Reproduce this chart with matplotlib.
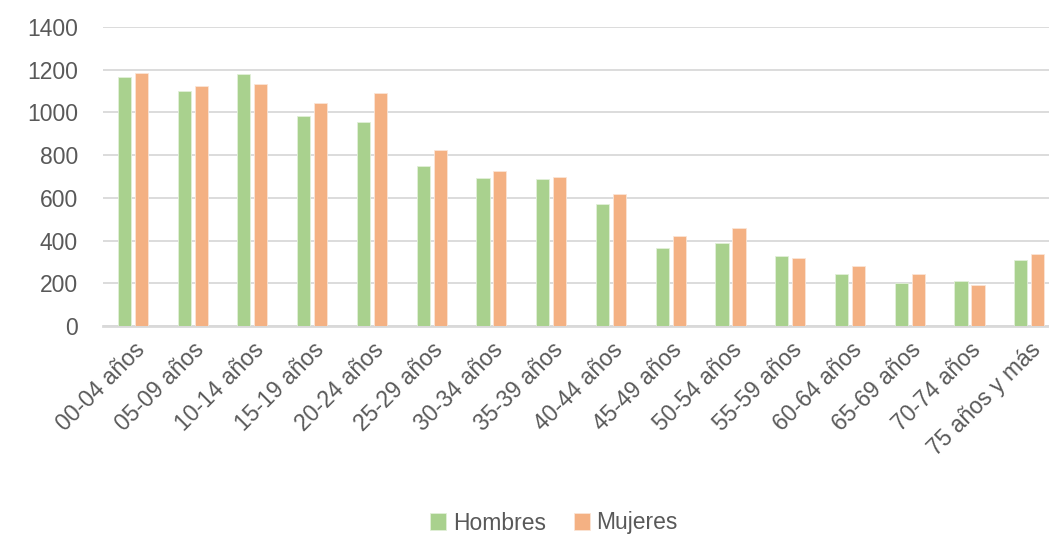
import numpy as np
import matplotlib
matplotlib.use("Agg")
import matplotlib.pyplot as plt

plt.rcParams['font.family'] = ['Liberation Sans', 'DejaVu Sans']

grupos = ['00-04 años', '05-09 años', '10-14 años', '15-19 años', '20-24 años',
          '25-29 años', '30-34 años', '35-39 años', '40-44 años', '45-49 años',
          '50-54 años', '55-59 años', '60-64 años', '65-69 años', '70-74 años',
          '75 años y más']
hombres = [1168, 1102, 1179, 982, 956, 747, 694, 689, 571, 366, 390, 329, 242, 203, 212, 309]
mujeres = [1183, 1124, 1132, 1042, 1091, 825, 727, 699, 617, 421, 457, 318, 279, 242, 190, 335]

verde = '#A9D18E'
naranja = '#F4B183'
gris = '#595959'

fig = plt.figure(figsize=(10.49, 5.37), dpi=100)
ax = fig.add_axes([103/1049, 1 - 326/537, 1 - 103/1049, (326 - 27)/537])

x = np.arange(len(grupos))
w = 0.22
ax.bar(x - 0.142, hombres, w, color=verde, edgecolor='#E2F0D9', linewidth=0.6, label='Hombres', zorder=3)
ax.bar(x + 0.142, mujeres, w, color=naranja, edgecolor='#FBE5D6', linewidth=0.6, label='Mujeres', zorder=3)

ax.set_ylim(0, 1400)
ax.set_xlim(-0.5, 15.33)
ax.set_yticks(range(0, 1401, 200))
ax.yaxis.grid(True, color='#D9D9D9', linewidth=1.3, zorder=0)
ax.set_axisbelow(True)
for s in ['top', 'right', 'left']:
    ax.spines[s].set_visible(False)
ax.spines['bottom'].set_color('#D9D9D9')
ax.spines['bottom'].set_linewidth(2)
ax.tick_params(length=0)
ax.tick_params(axis='y', labelsize=16.5, labelcolor=gris, pad=18)

ax.set_xticks(x)
ax.set_xticklabels(grupos, rotation=45, ha='right', rotation_mode='anchor',
                   fontsize=16.5, color=gris)
ax.tick_params(axis='x', pad=9)

fig.legend(loc='center', bbox_to_anchor=(554/1049, 1 - 523/537), ncol=2, frameon=False,
           fontsize=16.5, labelcolor=gris, handlelength=0.7, handleheight=0.7,
           handletextpad=0.3, columnspacing=1.2)

fig.savefig('out.png', dpi=100)
